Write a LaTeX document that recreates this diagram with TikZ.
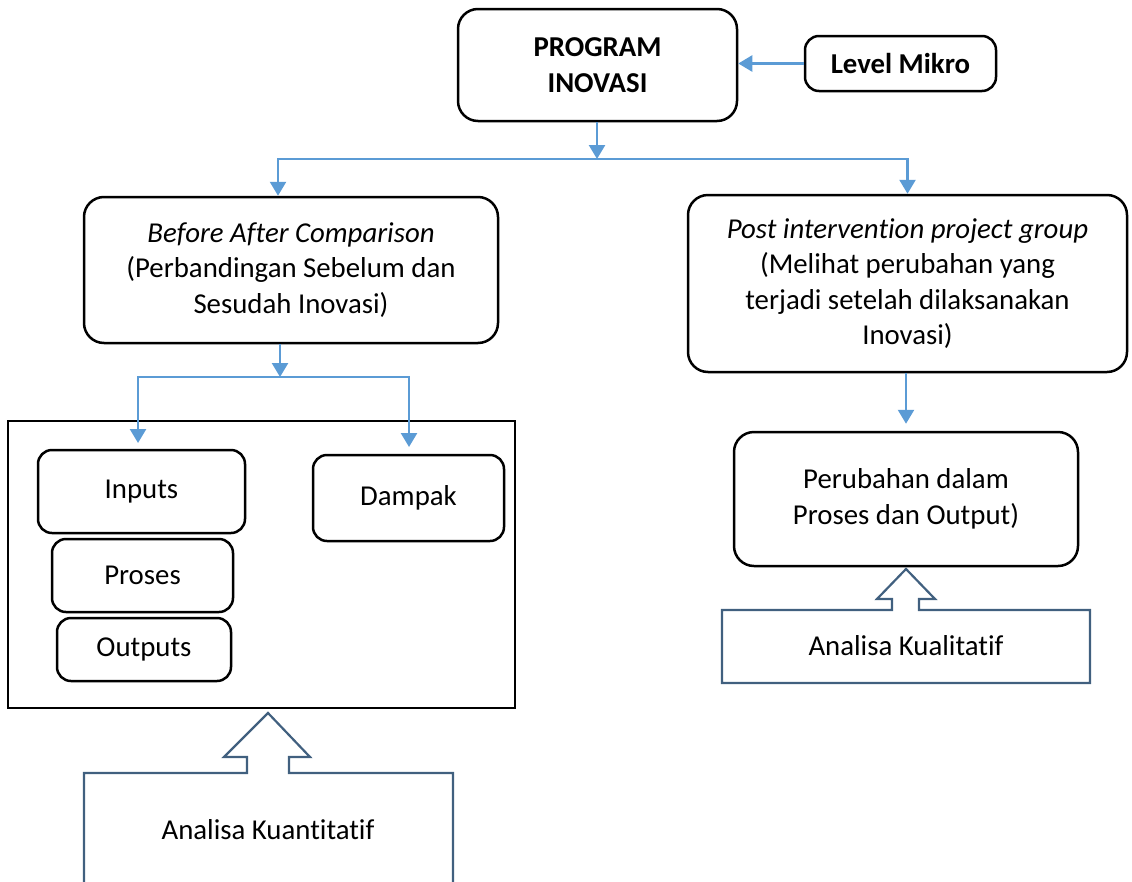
\documentclass[tikz,border=0pt]{standalone}
\usepackage{fontspec}
\setmainfont{Carlito}[Ligatures=NoCommon]
\usepackage{tikz}
\usetikzlibrary{arrows.meta}
\definecolor{linkblue}{HTML}{5B9BD5}
\definecolor{hollowblue}{HTML}{41607F}

\begin{document}
\begin{tikzpicture}[x=1pt,y=-1pt,
    every node/.style={font=\fontsize{28.8}{35.5}\selectfont},
    box/.style={draw,line width=2.5pt,rounded corners=20pt,align=center,inner sep=0pt},
    smallbox/.style={box,rounded corners=14pt},
    link/.style={draw=linkblue,line width=2.5pt,-{Triangle[width=16pt,length=14pt]}},
    hollow/.style={draw=hollowblue,line width=2.2pt}]
        \useasboundingbox (0,0) rectangle (1132,881);
        \node[box,minimum width=279pt,minimum height=112pt] (prog) at (597.5,65)
            {\textbf{PROGRAM}\\\textbf{INOVASI}};
        \node[smallbox,minimum width=191pt,minimum height=55pt] (mikro) at (900.5,63.5)
            {\textbf{Level Mikro}};
        \node[box,minimum width=414pt,minimum height=146pt] (before) at (291,270)
            {\textit{Before After Comparison}\\(Perbandingan Sebelum dan\\Sesudah Inovasi)};
        \node[box,minimum width=439pt,minimum height=177pt] (post) at (907.5,283.5)
            {\textit{Post intervention project group}\\(Melihat perubahan yang\\terjadi setelah dilaksanakan\\Inovasi)};
        \node[draw,line width=2.5pt,minimum width=507pt,minimum height=287pt,inner sep=0pt] (frame) at (261.5,564.5) {};
        \node[smallbox,minimum width=207pt,minimum height=83pt] (inputs) at (141.5,491.5) {Inputs};
        \node[smallbox,minimum width=181pt,minimum height=73pt] (proses) at (142.5,575.5) {Proses};
        \node[smallbox,minimum width=174pt,minimum height=63pt] (outputs) at (144,649.5) {Outputs};
        \node[smallbox,minimum width=191pt,minimum height=86pt] (dampak) at (408.5,498) {Dampak};
        \node[box,minimum width=344pt,minimum height=134pt] (ubah) at (906,499)
            {Perubahan dalam\\Proses dan Output)};
        \node (kual) at (906,646) {Analisa Kualitatif};
        \node (kuan) at (268,830) {Analisa Kuantitatif};

        \coordinate (j1) at (597,159);
        \coordinate (j2) at (280,377);
        \coordinate (t1) at (138,443);
        \coordinate (t2) at (409,447);
        \draw[link] (mikro.west) -- (mikro.west -| prog.east);
        \draw[link] (prog.south -| j1) -- (j1);
        \draw[link] (j1) -| ([xshift=-13pt]before.north);
        \draw[link] (j1) -| (post.north);
        \draw[link] (before.south -| j2) -- (j2);
        \draw[link] (j2) -| (t1);
        \draw[link] (j2) -| (t2);
        \draw[link,shorten >=7pt] (post.south -| ubah.north) -- (ubah.north);

        \draw[hollow] (722,683) -- (722,610) -- (892,610) -- (892,599) -- (877,599)
            -- (906,569) -- (935,599) -- (919,599) -- (919,610) -- (1090,610)
            -- (1090,683) -- cycle;
        \draw[hollow] (84,890) -- (84,773) -- (247,773) -- (247,757) -- (224,757)
            -- (268,713) -- (310,757) -- (289,757) -- (289,773) -- (453,773)
            -- (453,890);
\end{tikzpicture}
\end{document}
